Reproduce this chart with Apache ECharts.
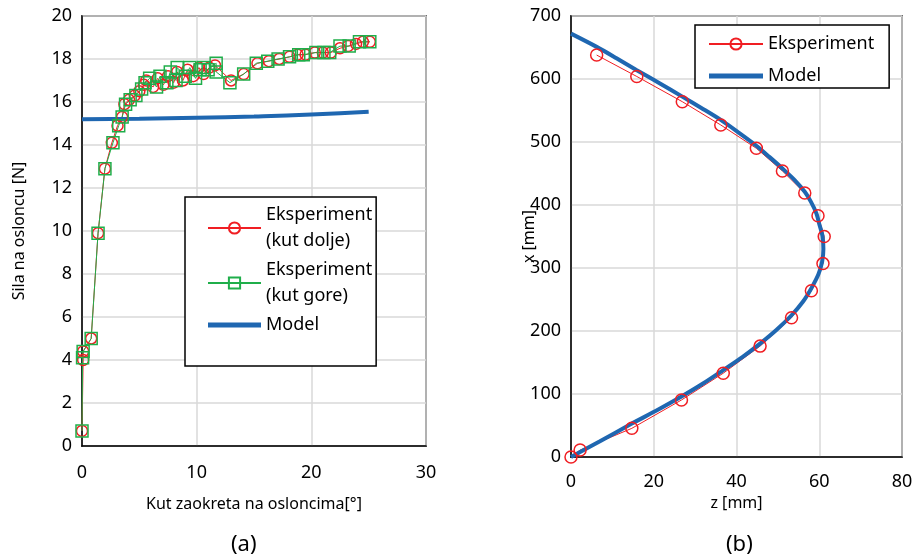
<!DOCTYPE html>
<html>
<head>
<meta charset="utf-8">
<script src="https://cdn.jsdelivr.net/npm/echarts@6/dist/echarts.min.js"></script>
<style>
  html, body { margin: 0; padding: 0; background: #fff; }
  #main { width: 916px; height: 556px; }
</style>
</head>
<body>
<div id="main"></div>
<script>
// (a) sila na osloncu - [kut, sila]
var kutDolje = [
  [0, 0.7], [0.1, 4.0], [0.1, 4.4], [0.8, 5.0], [1.4, 9.9], [2.0, 12.9], [2.6, 14.1],
  [3.1, 14.9], [3.5, 15.3], [3.7, 15.9], [4.1, 16.1], [4.6, 16.3], [5.0, 16.5], [5.4, 16.8],
  [5.6, 17.0], [6.2, 16.7], [6.6, 17.1], [7.1, 16.8], [7.5, 17.2], [8.0, 16.9], [8.3, 17.4],
  [8.8, 17.0], [9.2, 17.5], [9.7, 17.2], [10.2, 17.6], [10.6, 17.3], [11.1, 17.6], [11.6, 17.7],
  [13.0, 17.0], [14.1, 17.3], [15.3, 17.8], [16.3, 17.9], [17.2, 18.0], [18.1, 18.1],
  [18.8, 18.2], [19.5, 18.2], [20.3, 18.3], [21.0, 18.3], [21.7, 18.3], [22.5, 18.5],
  [23.2, 18.6], [23.9, 18.7], [24.5, 18.8], [25.1, 18.8]
];
var kutGore = [
  [0, 0.7], [0.05, 4.1], [0.1, 4.4], [0.8, 5.0], [1.4, 9.9], [2.0, 12.9], [2.7, 14.1],
  [3.2, 14.9], [3.5, 15.3], [3.8, 15.9], [4.2, 16.1], [4.7, 16.3], [5.2, 16.6], [5.5, 16.9],
  [5.9, 17.1], [6.5, 16.7], [6.8, 17.2], [7.4, 16.9], [7.7, 17.4], [8.2, 17.0], [8.3, 17.6],
  [9.0, 17.2], [9.4, 17.6], [9.9, 17.1], [10.3, 17.5], [10.6, 17.6], [11.0, 17.5], [11.7, 17.8],
  [11.7, 17.4], [12.9, 16.9], [14.1, 17.3], [15.2, 17.8], [16.2, 17.9], [17.1, 18.0],
  [18.1, 18.1], [18.9, 18.2], [19.3, 18.2], [20.4, 18.3], [21.1, 18.3], [21.6, 18.3],
  [22.5, 18.6], [23.3, 18.6], [24.2, 18.8], [25.1, 18.8]
];
var modelA = [[0, 15.2], [5, 15.22], [10, 15.27], [15, 15.33], [20, 15.42], [25, 15.55]];

// (b) progib - [z, x]
var eksperimentB = [
  [0, 0], [2.2, 11], [14.7, 45.5], [26.7, 90.5], [36.8, 133], [45.7, 176], [53.3, 221],
  [58.1, 264], [60.9, 307], [61.2, 350], [59.7, 383], [56.5, 419], [51.1, 454], [44.8, 490],
  [36.2, 527], [26.9, 564], [15.9, 604], [6.2, 638]
];
var modelB = [
  [0, 0], [7, 25], [14.7, 53], [21, 75], [26.7, 96], [32, 117], [36.8, 138], [41.5, 159],
  [45.7, 180], [49.7, 202], [53.3, 225], [56, 246], [58.1, 268], [59.8, 290], [60.7, 310],
  [61, 330], [60.8, 350], [60, 370], [59.3, 387], [58, 405], [56.5, 421], [54, 440],
  [51.1, 458], [48, 476], [44.8, 494], [40.5, 515], [36.2, 535], [31.5, 554], [26.9, 572],
  [21.5, 593], [15.9, 614], [11, 633], [6.2, 651], [0, 672]
];

var font = 'Noto Sans';
var crvena = '#f01e23';
var zelena = '#1fae4a';
var plava = '#1f67b1';
var ikonaModel = 'path://M0,0H100V9H0Z';

function os(min, max, interval, name, gap, margin) {
  return {
    type: 'value', min: min, max: max, interval: interval,
    name: name, nameLocation: 'middle', nameGap: gap,
    nameTextStyle: { fontFamily: font, fontSize: 16, color: '#000' },
    axisLine: { show: true, lineStyle: { color: '#000', width: 1.5 } },
    axisTick: { show: false },
    axisLabel: { fontFamily: font, fontSize: 18, color: '#000', margin: margin },
    splitLine: { lineStyle: { color: '#d9d9d9', width: 1.5 } }
  };
}

var legendText = { fontFamily: font, fontSize: 18, color: '#000', lineHeight: 26, verticalAlign: 'top', padding: [-13, 0, 0, 0] };

var chart = echarts.init(document.getElementById('main'));
chart.setOption({
  animation: false,
  backgroundColor: '#fff',
  title: [
    { text: '(a)', left: 231, top: 534, padding: 0, textStyle: { fontFamily: font, fontSize: 22, fontWeight: 'normal', color: '#000' } },
    { text: '(b)', left: 726, top: 534, padding: 0, textStyle: { fontFamily: font, fontSize: 22, fontWeight: 'normal', color: '#000' } }
  ],
  grid: [
    { left: 82, top: 16, width: 344, height: 430, show: true, borderColor: '#000', borderWidth: 1.5 },
    { left: 571, top: 16, width: 331, height: 441, show: true, borderColor: '#000', borderWidth: 1.5 }
  ],
  xAxis: [
    Object.assign(os(0, 30, 10, 'Kut zaokreta na osloncima[°]', 50, 18), { gridIndex: 0 }),
    Object.assign(os(0, 80, 20, 'z [mm]', 31, 16), { gridIndex: 1 })
  ],
  yAxis: [
    Object.assign(os(0, 20, 2, 'Sila na osloncu [N]', 55, 10), { gridIndex: 0 }),
    Object.assign(os(0, 700, 100, 'x [mm]', 34, 10), { gridIndex: 1, nameMoveOverlap: false })
  ],
  legend: [
    {
      orient: 'vertical', left: 185, top: 197,
      itemWidth: 53, itemHeight: 14, itemGap: 11,
      padding: [9, 4, 32, 22],
      borderColor: '#000', borderWidth: 1.5, backgroundColor: '#fff',
      textStyle: legendText,
      data: ['Eksperiment\n(kut dolje)', 'Eksperiment\n(kut gore)', { name: 'Model', icon: ikonaModel }]
    },
    {
      orient: 'vertical', left: 695, top: 25,
      itemWidth: 54, itemHeight: 14, itemGap: 14,
      padding: [10, 15, 3, 13],
      borderColor: '#000', borderWidth: 1.5, backgroundColor: '#fff',
      textStyle: legendText,
      data: ['Eksperiment', { name: 'Model ', icon: ikonaModel }]
    }
  ],
  series: [
    {
      name: 'Eksperiment\n(kut dolje)', type: 'line', xAxisIndex: 0, yAxisIndex: 0,
      data: kutDolje, symbol: 'circle', symbolSize: 11,
      lineStyle: { color: crvena, width: 1 },
      itemStyle: { color: 'rgba(0,0,0,0)', borderColor: crvena, borderWidth: 1.5 }
    },
    {
      name: 'Eksperiment\n(kut gore)', type: 'line', xAxisIndex: 0, yAxisIndex: 0,
      data: kutGore, symbol: 'rect', symbolSize: 12,
      lineStyle: { color: zelena, width: 1 },
      itemStyle: { color: 'rgba(0,0,0,0)', borderColor: zelena, borderWidth: 1.5 }
    },
    {
      name: 'Model', type: 'line', xAxisIndex: 0, yAxisIndex: 0,
      data: modelA, smooth: true, showSymbol: false, symbol: 'none',
      lineStyle: { color: plava, width: 4 }, itemStyle: { color: plava }
    },
    {
      name: 'Eksperiment', type: 'line', xAxisIndex: 1, yAxisIndex: 1,
      data: eksperimentB, symbol: 'circle', symbolSize: 12,
      lineStyle: { color: crvena, width: 1 },
      itemStyle: { color: 'rgba(0,0,0,0)', borderColor: crvena, borderWidth: 1.5 }
    },
    {
      name: 'Model ', type: 'line', xAxisIndex: 1, yAxisIndex: 1,
      data: modelB, smooth: 0.3, showSymbol: false, symbol: 'none',
      lineStyle: { color: plava, width: 4 }, itemStyle: { color: plava }
    }
  ]
});
</script>
</body>
</html>
